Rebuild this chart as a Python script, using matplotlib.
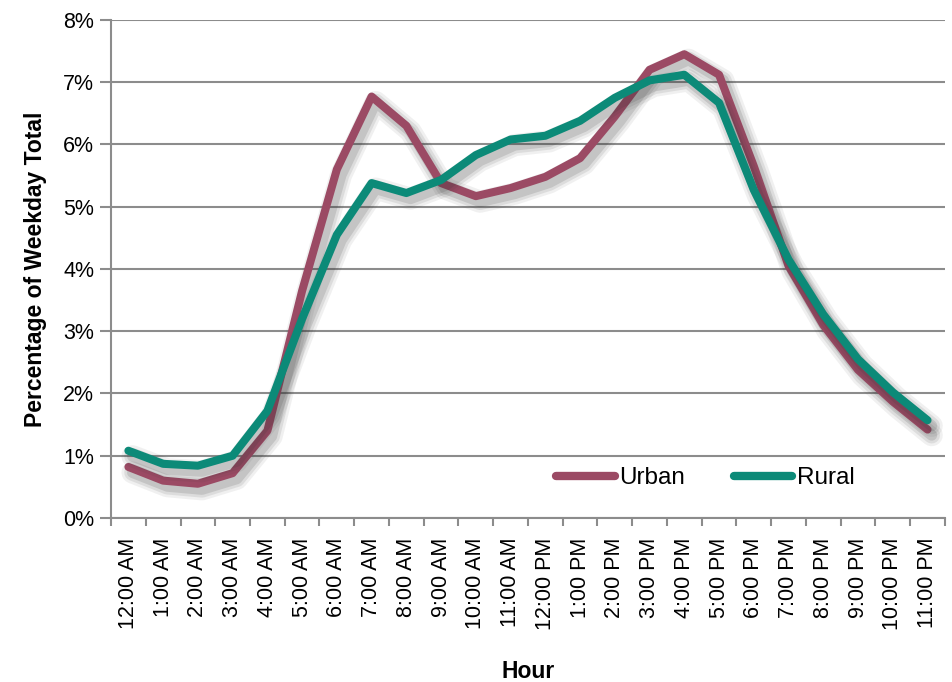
import matplotlib
matplotlib.use('Agg')
import matplotlib.pyplot as plt
import matplotlib.patheffects as pe
from matplotlib.lines import Line2D
from matplotlib.ticker import FuncFormatter, FixedLocator

plt.rcParams['font.family'] = ['Liberation Sans', 'DejaVu Sans']

# 数据
hours = ['12:00 AM', '1:00 AM', '2:00 AM', '3:00 AM', '4:00 AM', '5:00 AM',
         '6:00 AM', '7:00 AM', '8:00 AM', '9:00 AM', '10:00 AM', '11:00 AM',
         '12:00 PM', '1:00 PM', '2:00 PM', '3:00 PM', '4:00 PM', '5:00 PM',
         '6:00 PM', '7:00 PM', '8:00 PM', '9:00 PM', '10:00 PM', '11:00 PM']
urban = [0.82, 0.60, 0.55, 0.72, 1.40, 3.65, 5.60, 6.77, 6.30, 5.38, 5.17, 5.30,
         5.48, 5.78, 6.45, 7.20, 7.45, 7.12, 5.65, 4.05, 3.10, 2.38, 1.87, 1.42]
rural = [1.08, 0.87, 0.84, 1.00, 1.72, 3.20, 4.55, 5.38, 5.22, 5.43, 5.83, 6.08,
         6.14, 6.38, 6.75, 7.03, 7.12, 6.67, 5.27, 4.15, 3.27, 2.55, 2.02, 1.57]

urban_color = '#9B4A64'
rural_color = '#0C8A78'
grid_color = '#8C8C8C'

fig = plt.figure(figsize=(9.53, 6.82), dpi=100)
ax = fig.add_axes([0.1165, 0.2405, 0.875, 0.7302])

# 柔和阴影：几层不同宽度的半透明线
shadow = [pe.SimpleLineShadow(offset=(3, -4), shadow_color='#333333', alpha=0.07, linewidth=16),
          pe.SimpleLineShadow(offset=(3, -4), shadow_color='#333333', alpha=0.10, linewidth=12),
          pe.SimpleLineShadow(offset=(3, -4), shadow_color='#333333', alpha=0.14, linewidth=8),
          pe.Normal()]

x = list(range(len(hours)))
ax.plot(x, urban, color=urban_color, linewidth=5.8,
        solid_capstyle='round', solid_joinstyle='round', path_effects=shadow, zorder=3)
ax.plot(x, rural, color=rural_color, linewidth=5.8,
        solid_capstyle='round', solid_joinstyle='round', path_effects=shadow, zorder=4)

ax.set_xlim(-0.5, len(hours) - 0.5)
ax.set_ylim(0, 8)
ax.set_yticks(range(0, 9))
ax.yaxis.set_major_formatter(FuncFormatter(lambda v, p: f'{int(v)}%'))
ax.grid(True, axis='y', color=grid_color, linewidth=1.5)
ax.set_axisbelow(True)

ax.set_xticks(x)
ax.set_xticklabels(hours, rotation=90)
ax.xaxis.set_minor_locator(FixedLocator([i - 0.5 for i in range(len(hours) + 1)]))
ax.tick_params(axis='x', which='major', length=0, pad=14, labelsize=15.5)
ax.tick_params(axis='x', which='minor', length=6, width=1.5, color=grid_color)
ax.tick_params(axis='y', length=8, width=1.5, color=grid_color, labelsize=15.5, pad=4)

for s in ['top', 'right']:
    ax.spines[s].set_visible(False)
for s in ['left', 'bottom']:
    ax.spines[s].set_color(grid_color)
    ax.spines[s].set_linewidth(1.5)

ax.set_ylabel('Percentage of Weekday Total', fontsize=16.5, fontweight='bold', labelpad=12)
ax.set_xlabel('Hour', fontsize=16.5, fontweight='bold', labelpad=22)

handles = [Line2D([], [], color=urban_color, linewidth=6, solid_capstyle='round', label='Urban'),
           Line2D([], [], color=rural_color, linewidth=6, solid_capstyle='round', label='Rural')]
ax.legend(handles=handles, loc='center', bbox_to_anchor=(0.713, 0.08), ncol=2, frameon=False,
          fontsize=17.5, handlelength=2.4, handletextpad=0.2, columnspacing=2.0)

fig.savefig('out.png', dpi=100)
